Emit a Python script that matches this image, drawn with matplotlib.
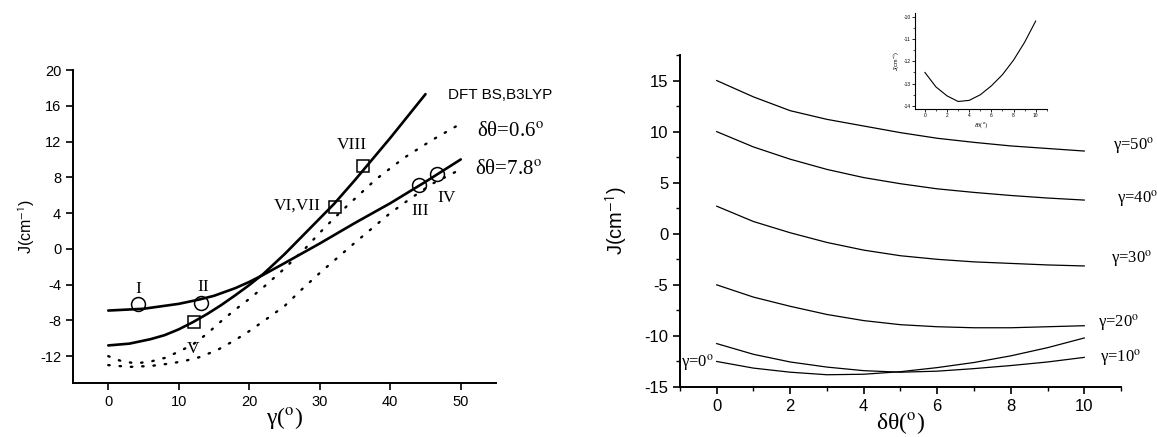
import matplotlib
matplotlib.use("Agg")
import matplotlib.pyplot as plt
from matplotlib.ticker import MultipleLocator

plt.rcParams['font.family'] = ['Liberation Sans', 'DejaVu Sans']
plt.rcParams['mathtext.fontset'] = 'stix'
plt.rcParams['axes.unicode_minus'] = False

# ---------------- Left panel data ----------------
gamma_flat = [0, 5, 10, 13, 15, 18, 20, 22, 25, 30, 35, 40, 45, 50]
J_flat = [-6.9, -6.7, -6.15, -5.65, -5.25, -4.4, -3.7, -2.9, -1.6, 0.6, 2.9, 5.1, 7.5, 10.0]

gamma_steep = [0, 3, 6, 8, 10, 12, 14, 16, 18, 20, 22, 25, 28, 30, 32, 35, 40, 45]
J_steep = [-10.8, -10.6, -10.1, -9.65, -9.0, -8.2, -7.3, -6.3, -5.2, -4.05, -2.8, -0.6,
           1.8, 3.4, 5.0, 7.7, 12.4, 17.3]

gamma_dot_up = [0, 2, 4, 6, 8, 10, 12, 14, 16, 18, 20, 22, 25, 28, 30, 32, 34, 38, 42, 46, 50]
J_dot_up = [-12.0, -12.6, -12.8, -12.6, -12.2, -11.5, -10.7, -9.5, -8.1, -6.8, -5.6, -4.3,
            -2.2, 0.1, 1.8, 3.4, 4.9, 7.8, 10.2, 12.2, 14.0]

gamma_dot_lo = [0, 3, 6, 9, 11, 13, 15.5, 18, 20, 22, 25, 27.5, 30, 32.5, 35, 40, 43, 46, 50]
J_dot_lo = [-13.0, -13.2, -13.1, -12.8, -12.5, -12.1, -11.3, -10.2, -9.2, -8.1, -6.4, -4.5,
            -2.7, -1.0, 0.7, 4.0, 5.7, 7.3, 8.9]

circ_gamma = [4.2, 13.1, 44.1, 46.7]
circ_J = [-6.2, -6.0, 7.1, 8.4]
sq_gamma = [12.1, 32.2, 36.1]
sq_J = [-8.2, 4.65, 9.3]

roman_labels = ["I", "II", "III", "IV", "V", "VI,VII", "VIII"]
roman_x = [4.2, 13.4, 44.2, 48.0, 12.0, 26.8, 34.6]
roman_y = [-4.5, -4.3, 4.2, 5.7, -11.2, 4.8, 11.6]

# ---------------- Right panel data ----------------
dtheta = [0, 1, 2, 3, 4, 5, 6, 7, 8, 9, 10]
J_g50 = [15.0, 13.4, 12.05, 11.2, 10.55, 9.9, 9.35, 8.95, 8.6, 8.35, 8.1]
J_g40 = [10.0, 8.5, 7.3, 6.3, 5.5, 4.9, 4.4, 4.05, 3.75, 3.5, 3.3]
J_g30 = [2.7, 1.2, 0.1, -0.85, -1.6, -2.15, -2.5, -2.75, -2.9, -3.05, -3.15]
J_g20 = [-5.0, -6.2, -7.1, -7.9, -8.5, -8.9, -9.1, -9.2, -9.2, -9.1, -9.0]
J_g10 = [-10.75, -11.8, -12.55, -13.05, -13.4, -13.55, -13.45, -13.2, -12.9, -12.55, -12.1]
J_g0 = [-12.5, -13.15, -13.55, -13.8, -13.75, -13.5, -13.1, -12.6, -11.95, -11.15, -10.2]

curve_labels = ["γ=50$^{\\rm o}$", "γ=40$^{\\rm o}$", "γ=30$^{\\rm o}$",
                "γ=20$^{\\rm o}$", "γ=10$^{\\rm o}$", "γ=0$^{\\rm o}$"]
label_x = [10.78, 10.9, 10.74, 10.38, 10.43, -0.97]
label_y = [8.6, 3.45, -2.4, -8.7, -12.15, -12.6]

# ---------------- Figure ----------------
fig = plt.figure(figsize=(11.57, 4.37), dpi=100)

serif = ['Liberation Serif', 'DejaVu Serif']
dots = (0, (0.6, 4.2))
jlabel = "J(cm$^{\\mathsf{-1}}$)"

# Left panel
ax1 = fig.add_axes([0.0631, 0.1236, 0.3656, 0.7162])
ax1.plot(gamma_flat, J_flat, color='black', lw=1.9, solid_capstyle='round')
ax1.plot(gamma_steep, J_steep, color='black', lw=1.9, solid_capstyle='round')
ax1.plot(gamma_dot_up, J_dot_up, color='black', lw=1.7, linestyle=dots,
         dash_capstyle='round')
ax1.plot(gamma_dot_lo, J_dot_lo, color='black', lw=1.7, linestyle=dots,
         dash_capstyle='round')
ax1.plot(circ_gamma, circ_J, linestyle='none', marker='o', markersize=10,
         markerfacecolor='none', markeredgecolor='black', markeredgewidth=1.1)
ax1.plot(sq_gamma, sq_J, linestyle='none', marker='s', markersize=8.5,
         markerfacecolor='none', markeredgecolor='black', markeredgewidth=1.1)
for t, x, y in zip(roman_labels, roman_x, roman_y):
    ax1.text(x, y, t, family=serif, fontsize=12.5, ha='center', va='center')

ax1.text(48.2, 17.2, "DFT BS,B3LYP", fontsize=11, ha='left', va='center', clip_on=False)
ax1.text(52.3, 13.1, "δθ=0.6$^{\\rm o}$", family=serif, fontsize=15,
         ha='left', va='center', clip_on=False)
ax1.text(52.0, 8.85, "δθ=7.8$^{\\rm o}$", family=serif, fontsize=15,
         ha='left', va='center', clip_on=False)

ax1.set_xlim(-5, 55)
ax1.set_ylim(-15, 20)
ax1.set_xticks([0, 10, 20, 30, 40, 50])
ax1.set_yticks([-12, -8, -4, 0, 4, 8, 12, 16, 20])
ax1.spines['top'].set_visible(False)
ax1.spines['right'].set_visible(False)
for s in ['left', 'bottom']:
    ax1.spines[s].set_linewidth(1.4)
ax1.tick_params(direction='out', length=5, width=1.2, labelsize=10.5)
ax1.set_ylabel(jlabel, fontsize=11.5, labelpad=2)
ax1.set_xlabel("γ($^{\\rm o}$)", family=serif, fontsize=17, labelpad=-3)

# Right panel
ax2 = fig.add_axes([0.5877, 0.1144, 0.3812, 0.7597])
for J in [J_g50, J_g40, J_g30, J_g20, J_g10, J_g0]:
    ax2.plot(dtheta, J, color='black', lw=0.9)
for t, x, y in zip(curve_labels, label_x, label_y):
    ax2.text(x, y, t, family=serif, fontsize=12, ha='left', va='center', clip_on=False)
ax2.set_xlim(-1, 11)
ax2.set_ylim(-15, 17.5)
ax2.set_xticks([0, 2, 4, 6, 8, 10])
ax2.set_yticks([-15, -10, -5, 0, 5, 10, 15])
ax2.xaxis.set_minor_locator(MultipleLocator(1))
ax2.yaxis.set_minor_locator(MultipleLocator(2.5))
ax2.spines['top'].set_visible(False)
ax2.spines['right'].set_visible(False)
for s in ['left', 'bottom']:
    ax2.spines[s].set_linewidth(1.4)
ax2.tick_params(which='major', direction='out', length=5, width=1.2, labelsize=12)
ax2.tick_params(which='minor', direction='out', length=3, width=1.0)
ax2.set_ylabel(jlabel, fontsize=14.5, labelpad=10)
ax2.set_xlabel("δθ($^{\\rm o}$)", family=serif, fontsize=17, labelpad=-3)

# Inset (gamma = 0 curve)
ax3 = fig.add_axes([0.7908, 0.7499, 0.1139, 0.2197])
ax3.plot(dtheta, J_g0, color='black', lw=0.8)
ax3.set_xlim(-0.9, 11)
ax3.set_ylim(-14.15, -9.85)
ax3.set_xticks([0, 2, 4, 6, 8, 10])
ax3.set_yticks([-14, -13, -12, -11, -10])
ax3.xaxis.set_minor_locator(MultipleLocator(1))
ax3.yaxis.set_minor_locator(MultipleLocator(0.5))
ax3.spines['top'].set_visible(False)
ax3.spines['right'].set_visible(False)
for s in ['left', 'bottom']:
    ax3.spines[s].set_linewidth(0.8)
ax3.tick_params(which='major', direction='out', length=2, width=0.6, labelsize=3.5, pad=1)
ax3.tick_params(which='minor', direction='out', length=1.2, width=0.5)
ax3.set_ylabel(jlabel, fontsize=4, labelpad=1)
ax3.set_xlabel("δθ($^{\\rm o}$)", family=serif, fontsize=4.5, labelpad=1)

fig.savefig("out.png", dpi=100)
